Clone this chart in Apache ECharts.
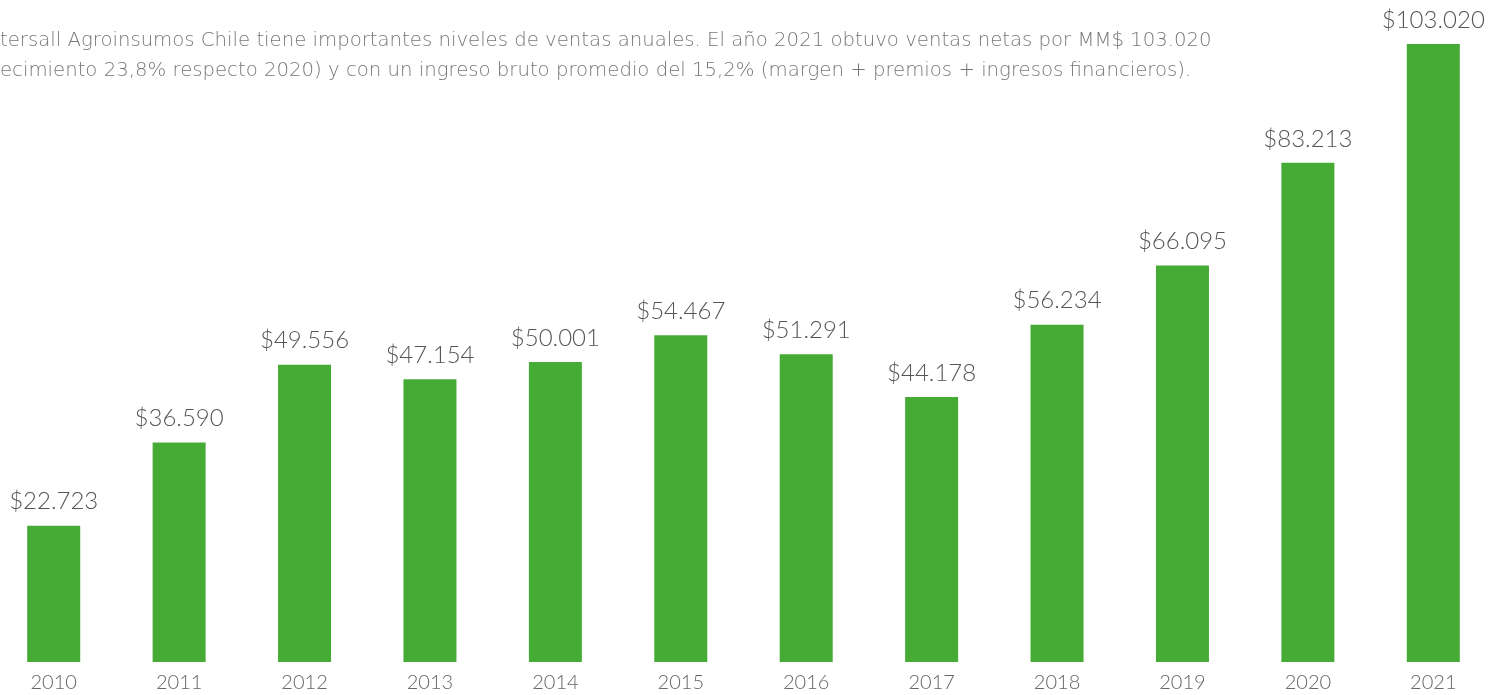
<!DOCTYPE html>
<html>
<head>
<meta charset="utf-8">
<script src="https://cdn.jsdelivr.net/npm/echarts@6/dist/echarts.min.js"></script>
<style>
html, body { margin: 0; padding: 0; background: #fff; }
#main { width: 1500px; height: 695px; }
</style>
</head>
<body>
<div id="main"></div>
<script>
// datos de ventas anuales
var years = ['2010', '2011', '2012', '2013', '2014', '2015', '2016', '2017', '2018', '2019', '2020', '2021'];
var ventas = [22723, 36590, 49556, 47154, 50001, 54467, 51291, 44178, 56234, 66095, 83213, 103020];
var lineas = [
    'tersall Agroinsumos Chile tiene importantes niveles de ventas anuales. El año 2021 obtuvo ventas netas por MM$ 103.020',
    'ecimiento 23,8% respecto 2020) y con un ingreso bruto promedio del 15,2% (margen + premios + ingresos financieros).'
];

var myChart = echarts.init(document.getElementById('main'));

function fmt(v) {
    var s = String(v);
    return '$' + s.slice(0, s.length - 3) + '.' + s.slice(-3);
}

var option = {
    backgroundColor: '#fff',
    animation: false,
    textStyle: { fontFamily: 'Lato' },
    graphic: [
        {
            type: 'text', left: 0, top: 31,
            style: { text: lineas[0], fontSize: 19.7, fill: '#777', fontFamily: 'DejaVu Sans', fontWeight: 200 }
        },
        {
            type: 'text', left: 0, top: 61,
            style: { text: lineas[1], fontSize: 19.7, fill: '#777', fontFamily: 'DejaVu Sans', fontWeight: 200 }
        }
    ],
    grid: {
        left: -9,
        width: 1505,
        top: 44,
        bottom: 33,
        containLabel: false,
        outerBoundsMode: 'none'
    },
    xAxis: {
        type: 'category',
        data: years,
        axisLine: { show: false },
        axisTick: { show: false },
        axisLabel: { color: '#666', fontSize: 20, margin: 11, fontWeight: 300 }
    },
    yAxis: {
        type: 'value',
        min: 0,
        max: 103020,
        show: false,
        splitLine: { show: false }
    },
    series: [
        {
            type: 'bar',
            data: ventas,
            barWidth: 53,
            itemStyle: { color: '#45ab35' },
            label: {
                show: true,
                position: 'top',
                distance: 12,
                color: '#555',
                fontSize: 24,
                fontWeight: 300,
                formatter: function (p) { return fmt(p.value); }
            }
        }
    ]
};

myChart.setOption(option);
</script>
</body>
</html>
